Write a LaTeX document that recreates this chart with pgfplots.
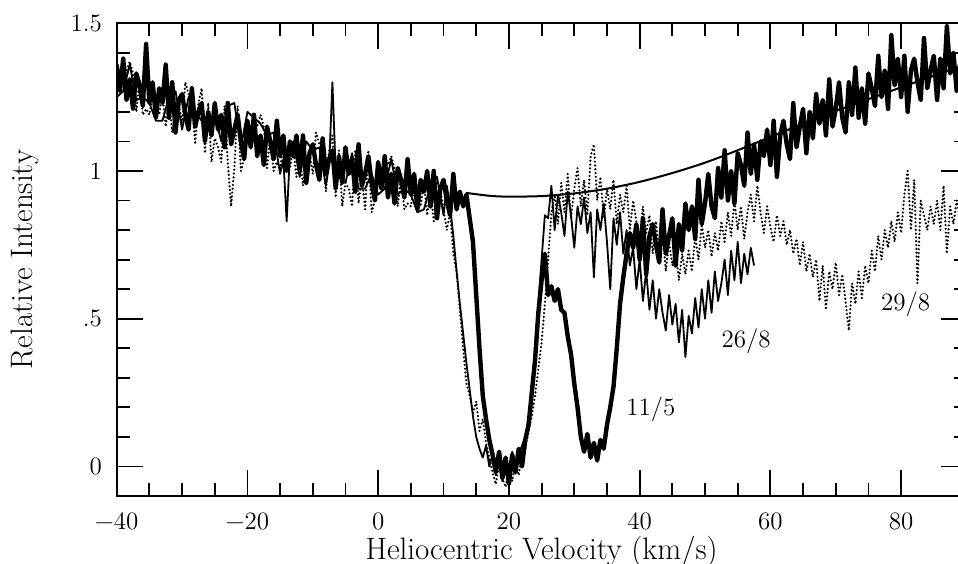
\documentclass[border=0pt]{standalone}
\usepackage{fontspec}
\usepackage{pgfplots}
\pgfplotsset{compat=1.18}

% spectrum 11/5 (thick)
\pgfplotstableread{
v y
-40 1.36
-39.5 1.27
-39 1.38
-38.5 1.24
-38 1.31
-37.5 1.21
-37 1.33
-36.5 1.29
-36 1.22
-35.5 1.43
-35 1.23
-34.5 1.30
-34 1.18
-33.5 1.28
-33 1.23
-32.5 1.36
-32 1.18
-31.5 1.30
-31 1.13
-30.5 1.24
-30 1.26
-29.5 1.19
-29 1.14
-28.5 1.28
-28 1.15
-27.5 1.20
-27 1.23
-26.5 1.10
-26 1.20
-25.5 1.12
-25 1.23
-24.5 1.14
-24 1.19
-23.5 1.08
-23 1.23
-22.5 1.09
-22 1.14
-21.5 1.19
-21 1.10
-20.5 1.04
-20 1.17
-19.5 1.08
-19 1.19
-18.5 1.05
-18 1.12
-17.5 1.02
-17 1.15
-16.5 1.10
-16 1.04
-15.5 1.17
-15 1.05
-14.5 1.12
-14 1.00
-13.5 1.10
-13 1.05
-12.5 1.12
-12 1.01
-11.5 1.12
-11 0.96
-10.5 1.06
-10 1.09
-9.5 1.02
-9 0.97
-8.5 1.11
-8 0.99
-7.5 1.04
-7 1.07
-6.5 0.94
-6 1.05
-5.5 0.96
-5 1.08
-4.5 0.99
-4 1.04
-3.5 0.93
-3 1.09
-2.5 0.95
-2 0.99
-1.5 1.05
-1 0.96
-0.5 0.90
0 1.03
0.5 0.94
1 1.05
1.5 0.91
2 0.99
2.5 0.89
3 1.01
3.5 0.97
4 0.91
4.5 1.04
5 0.92
5.5 0.99
6 0.87
6.5 0.97
7 0.93
7.5 1.00
8 0.88
8.5 1.00
9 0.84
9.5 0.94
10 0.97
10.5 0.90
11 0.85
11.5 0.99
12 0.87
12.5 0.93
13 0.88
13.5 0.92
14 0.84
14.5 0.76
15 0.58
15.5 0.40
16 0.24
16.5 0.16
17 0.09
17.5 0.04
18 -0.02
18.5 0.05
19 -0.04
19.5 0.03
20 -0.06
20.5 0.04
21 -0.02
21.5 0.06
22 0.00
22.5 0.09
23 0.14
23.5 0.25
24 0.36
24.5 0.52
25 0.63
25.5 0.72
26 0.58
26.5 0.61
27 0.56
27.5 0.60
28 0.53
28.5 0.52
29 0.44
29.5 0.38
30 0.28
30.5 0.20
31 0.10
31.5 0.05
32 0.11
32.5 0.03
33 0.08
33.5 0.02
34 0.09
34.5 0.06
35 0.14
35.5 0.20
36 0.27
36.5 0.40
37 0.55
37.5 0.64
38 0.72
38.5 0.79
39 0.74
39.5 0.82
40 0.70
40.5 0.84
41 0.65
41.5 0.78
42 0.82
42.5 0.75
43 0.69
43.5 0.87
44 0.72
44.5 0.78
45 0.84
45.5 0.68
46 0.82
46.5 0.73
47 0.89
47.5 0.80
48 0.88
48.5 0.77
49 0.97
49.5 0.82
50 0.89
50.5 0.99
51 0.88
51.5 0.84
52 1.01
52.5 0.91
53 1.07
53.5 0.90
54 1.00
54.5 0.89
55 1.06
55.5 1.02
56 0.95
56.5 1.13
57 0.99
57.5 1.09
58 0.97
58.5 1.10
59 1.05
59.5 1.14
60 1.02
60.5 1.17
61 0.98
61.5 1.12
62 1.17
62.5 1.09
63 1.04
63.5 1.23
64 1.08
64.5 1.15
65 1.21
65.5 1.06
66 1.20
66.5 1.11
67 1.26
67.5 1.16
68 1.24
68.5 1.12
69 1.31
69.5 1.15
70 1.21
70.5 1.30
71 1.18
71.5 1.13
72 1.30
72.5 1.19
73 1.35
73.5 1.18
74 1.28
74.5 1.16
75 1.33
75.5 1.28
76 1.22
76.5 1.39
77 1.25
77.5 1.34
78 1.21
78.5 1.46
79 1.29
79.5 1.38
80 1.25
80.5 1.39
81 1.20
81.5 1.34
82 1.38
82.5 1.30
83 1.24
83.5 1.45
84 1.28
84.5 1.34
85 1.39
85.5 1.24
86 1.38
86.5 1.28
87 1.49
87.5 1.33
88 1.40
88.5 1.27
89 1.36
89.5 1.31
90 1.38
}\specA

% spectrum 26/8 (thin)
\pgfplotstableread{
v y
-40 1.25
-39 1.27
-38 1.36
-37 1.24
-36 1.25
-35 1.23
-34 1.17
-33 1.17
-32 1.25
-31 1.27
-30 1.14
-29 1.25
-28 1.20
-27 1.17
-26 1.15
-25 1.19
-24 1.10
-23 1.22
-22 1.23
-21 1.08
-20 1.20
-19 1.18
-18 1.16
-17 1.12
-16 1.13
-15 0.99
-14.5 1.04
-14 0.83
-13.5 1.06
-13 1.10
-12 0.98
-11 1.10
-10 1.07
-9 1.08
-8 0.95
-7.5 1.02
-7 1.30
-6.5 1.00
-6 0.98
-5 0.96
-4 1.06
-3 0.94
-2 0.94
-1 0.99
0 0.92
1 0.94
2 1.04
3 0.92
4 0.94
5 0.92
6 0.86
7 0.87
8 0.95
9 0.98
10 0.85
10.5 0.95
11 0.88
11.5 0.78
12 0.66
12.5 0.55
13 0.45
13.5 0.35
14 0.26
14.5 0.17
15 0.10
15.5 0.06
16 0.03
16.5 0.07
17 0.00
17.5 0.04
18 -0.03
18.5 0.03
19 -0.05
19.5 0.02
20 -0.02
20.5 0.05
21 0.01
21.5 0.04
22 0.07
22.5 0.10
23 0.16
23.5 0.27
24 0.40
24.5 0.55
25 0.70
25.5 0.85
26 0.84
26.5 0.95
27 0.80
27.5 0.92
28 0.86
28.5 0.78
29 0.93
29.5 0.85
30 0.74
30.5 0.88
31 0.82
31.5 0.91
32 0.79
32.5 0.86
33 0.64
33.5 0.87
34 0.80
34.5 0.89
35 0.76
35.5 0.60
36 0.84
36.5 0.75
37 0.86
37.5 0.72
38 0.80
38.5 0.68
39 0.74
39.5 0.60
40 0.70
40.5 0.56
41 0.66
41.5 0.53
42 0.63
42.5 0.50
43 0.60
43.5 0.52
44 0.46
44.5 0.58
45 0.48
45.5 0.55
46 0.42
46.5 0.53
47 0.37
47.5 0.51
48 0.45
48.5 0.57
49 0.47
49.5 0.60
50 0.50
50.5 0.63
51 0.52
51.5 0.66
52 0.56
52.5 0.62
53 0.70
53.5 0.58
54 0.73
54.5 0.63
55 0.76
55.5 0.62
56 0.72
56.5 0.65
57 0.74
57.5 0.68
}\specB

% spectrum 29/8 (dotted)
\pgfplotstableread{
v y
-40 1.34
-39.5 1.27
-39 1.37
-38.5 1.34
-38 1.37
-37.5 1.33
-37 1.20
-36.5 1.31
-36 1.19
-35.5 1.21
-35 1.19
-34.5 1.26
-34 1.24
-33.5 1.19
-33 1.26
-32.5 1.15
-32 1.24
-31.5 1.13
-31 1.21
-30.5 1.23
-30 1.16
-29.5 1.30
-29 1.26
-28.5 1.24
-28 1.09
-27.5 1.23
-27 1.28
-26.5 1.06
-26 1.23
-25.5 1.03
-25 1.11
-24.5 1.08
-24 1.03
-23.5 1.22
-23 1.03
-22.5 0.88
-22 1.01
-21.5 1.22
-21 1.00
-20.5 1.04
-20 1.15
-19.5 1.08
-19 1.18
-18.5 1.15
-18 1.19
-17.5 1.15
-17 1.01
-16.5 1.12
-16 1.00
-15.5 1.03
-15 1.01
-14.5 1.08
-14 1.07
-13.5 1.01
-13 1.08
-12.5 0.98
-12 1.06
-11.5 0.95
-11 1.04
-10.5 1.06
-10 0.99
-9.5 1.13
-9 1.09
-8.5 1.08
-8 0.93
-7.5 1.07
-7 1.12
-6.5 0.91
-6 1.07
-5.5 0.88
-5 0.96
-4.5 0.94
-4 0.88
-3.5 1.07
-3 0.89
-2.5 0.98
-2 0.87
-1.5 1.07
-1 0.86
-0.5 0.90
0 1.01
0.5 0.94
1 1.05
1.5 1.02
2 1.05
2.5 1.01
3 0.88
3.5 0.99
4 0.87
4.5 0.89
5 0.88
5.5 0.95
6 0.94
6.5 0.88
7 0.96
7.5 0.85
8 0.94
8.5 0.83
9 0.92
9.5 0.94
10 0.87
10.5 0.80
11 0.86
11.5 0.72
12 0.66
12.5 0.53
13 0.40
13.5 0.28
14 0.24
14.5 0.18
15 0.22
15.5 0.12
16 0.16
16.5 0.08
17 0.03
17.5 -0.02
18 -0.06
18.5 0.01
19 -0.04
19.5 -0.07
20 0.00
20.5 -0.05
21 0.02
21.5 -0.03
22 0.04
22.5 0.06
23 0.12
23.5 0.17
24 0.24
24.5 0.33
25 0.42
25.5 0.55
26 0.70
26.5 0.86
27 0.92
27.5 0.82
28 0.96
28.5 0.86
29 0.99
29.5 0.84
30 0.94
30.5 1.01
31 0.88
31.5 0.97
32 0.85
32.5 1.05
33 1.09
33.5 0.90
34 0.98
34.5 0.84
35 0.94
35.5 0.87
36 0.97
36.5 0.82
37 0.92
37.5 0.86
38 0.95
38.5 0.80
39 0.90
39.5 0.83
40 0.76
40.5 0.88
41 0.79
41.5 0.85
42 0.72
42.5 0.83
43 0.71
43.5 0.80
44 0.66
44.5 0.76
45 0.68
45.5 0.74
46 0.63
46.5 0.72
47 0.65
47.5 0.73
48 0.66
48.5 0.78
49 0.70
49.5 0.82
50 0.74
50.5 0.80
51 0.71
51.5 0.79
52 0.73
52.5 0.83
53 0.76
53.5 0.86
54 0.78
54.5 0.90
55 0.80
55.5 0.88
56 0.77
56.5 0.86
57 0.92
57.5 0.83
58 0.95
58.5 0.86
59 0.79
59.5 0.88
60 0.81
60.5 0.76
61 0.85
61.5 0.78
62 0.83
62.5 0.75
63 0.80
63.5 0.72
64 0.77
64.5 0.68
65 0.76
65.5 0.66
66 0.72
66.5 0.64
67 0.70
67.5 0.56
68 0.68
68.5 0.53
69 0.66
69.5 0.60
70 0.69
70.5 0.58
71 0.65
71.5 0.56
72 0.46
72.5 0.62
73 0.55
73.5 0.66
74 0.57
74.5 0.68
75 0.62
75.5 0.73
76 0.66
76.5 0.78
77 0.70
77.5 0.80
78 0.74
78.5 0.83
79 0.76
79.5 0.86
80 0.79
80.5 0.92
81 1.00
81.5 0.80
82 0.97
82.5 0.62
83 0.90
83.5 0.85
84 0.80
84.5 0.88
85 0.82
85.5 0.90
86 0.80
86.5 0.95
87 0.72
87.5 0.88
88 0.82
88.5 0.90
89 0.84
89.5 0.88
90 0.83
}\specC

% fitted continuum
\pgfplotstableread{
v y
13.4 0.926
17 0.916
20 0.913
25 0.915
30 0.924
35 0.940
40 0.963
45 0.993
50 1.028
55 1.070
60 1.115
65 1.160
70 1.203
75 1.243
80 1.283
85 1.322
90 1.360
}\cont

\begin{document}
\begin{tikzpicture}
\begin{axis}[
  at={(0,0)}, anchor=south west,
  scale only axis, width=424.9pt, height=236.4pt,
  xmin=-40, xmax=90, ymin=-0.1, ymax=1.5,
  xtick={-40,-20,0,20,40,60,80},
  xticklabels={−40,−20,0,20,40,60,80},
  ytick={0,0.5,1,1.5},
  yticklabels={0,.5,1,1.5},
  minor x tick num=3, minor y tick num=4,
  major tick length=13pt, minor tick length=6.5pt,
  tick style={line width=0.9pt, black},
  every axis/.append style={line width=1.1pt},
  tick label style={font=\fontsize{12.5}{14}\selectfont},
  xticklabel style={anchor=base, inner sep=0pt, yshift=-16.8pt},
  yticklabel style={xshift=-3.5pt},
  xlabel={Heliocentric Velocity (km/s)},
  ylabel={Relative Intensity},
  label style={font=\fontsize{15.5}{18}\selectfont},
  xlabel style={at={(axis description cs:0.5,-0.1340)}, anchor=base, inner sep=0pt},
  ylabel style={at={(axis description cs:-0.1078,0.5)}, anchor=center},
]
\addplot[black, line width=1.2pt, line cap=round, line join=round,
  dash pattern=on 0pt off 1.9pt] table[x=v, y=y] {\specC};
\addplot[black, line width=0.9pt, line join=round] table[x=v, y=y] {\specB};
\addplot[black, line width=2.2pt, line join=round] table[x=v, y=y] {\specA};
\addplot[black, line width=1pt, smooth] table[x=v, y=y] {\cont};
\node[font=\fontsize{12.5}{14}\selectfont] at (axis cs:41.7,0.195) {11/5};
\node[font=\fontsize{12.5}{14}\selectfont] at (axis cs:56.3,0.425) {26/8};
\node[font=\fontsize{12.5}{14}\selectfont] at (axis cs:80.7,0.55) {29/8};
\end{axis}
\pgfresetboundingbox
\useasboundingbox (-58.35pt,-33.5pt) rectangle (420.65pt,248pt);
\end{tikzpicture}
\end{document}
